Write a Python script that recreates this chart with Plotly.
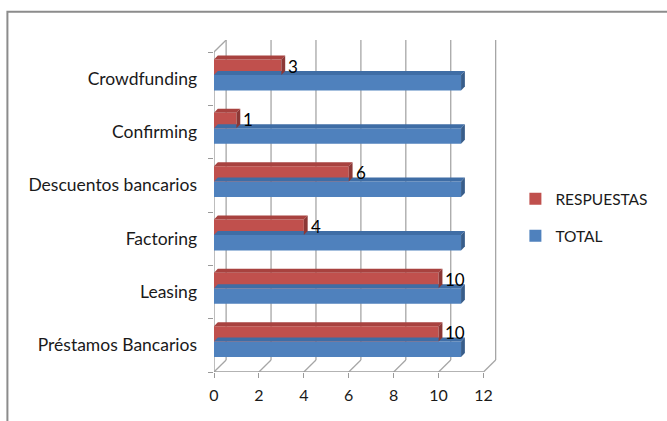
import plotly.graph_objects as go

categories = ["Préstamos Bancarios", "Leasing", "Factoring",
              "Descuentos bancarios", "Confirming", "Crowdfunding"]
respuestas = [10, 10, 4, 6, 1, 3]
total = [11, 11, 11, 11, 11, 11]
x_ticks = [0, 2, 4, 6, 8, 10, 12]

RED, RED_TOP, RED_SIDE = "#C0504D", "#A8423F", "#8C3836"
BLUE, BLUE_TOP, BLUE_SIDE = "#4F81BD", "#3F6DA5", "#385D8A"
GRID = "#A6A6A6"
AXIS = "#9A9A9A"
FONT = "Lato"
TXT = "#1a1a1a"

n = len(categories)
idx = list(range(n))
W = 0.29
OFF_BLUE = -0.22
OFF_RED = OFF_BLUE + W
DX, DY = 0.17, 0.075        # bar depth (data units)
WX, WY = 0.54, 0.225        # wall depth (data units)
XMAX = max(x_ticks)
YLO, YHI = -0.5, n - 0.5

fig = go.Figure()
fig.add_trace(go.Bar(y=idx, x=total, orientation="h", name="TOTAL",
                     marker=dict(color=BLUE, line=dict(width=0)),
                     width=W, offset=OFF_BLUE, legendrank=2, legendgroup="t"))
fig.add_trace(go.Bar(y=idx, x=respuestas, orientation="h", name="RESPUESTAS",
                     marker=dict(color=RED, line=dict(width=0)),
                     width=W, offset=OFF_RED, legendrank=1, legendgroup="r"))

shapes = []
# back wall gridlines + floor diagonals
for v in x_ticks:
    shapes.append(dict(type="line", xref="x", yref="y", x0=v + WX, x1=v + WX,
                       y0=YLO + WY, y1=YHI + WY, line=dict(color=GRID, width=1.3),
                       layer="below"))
    shapes.append(dict(type="line", xref="x", yref="y", x0=v, x1=v + WX,
                       y0=YLO, y1=YLO + WY, line=dict(color=GRID, width=1.3),
                       layer="below"))
# left wall top diagonal
shapes.append(dict(type="line", xref="x", yref="y", x0=0, x1=WX, y0=YHI, y1=YHI + WY,
                   line=dict(color=GRID, width=1.3), layer="below"))
# front axes
shapes.append(dict(type="line", xref="x", yref="y", x0=0, x1=0, y0=YLO, y1=YHI,
                   line=dict(color=AXIS, width=1.3), layer="below"))
shapes.append(dict(type="line", xref="x", yref="y", x0=0, x1=XMAX, y0=YLO, y1=YLO,
                   line=dict(color=AXIS, width=1.3), layer="below"))


def depth(values, off, top_col, side_col):
    for i, v in zip(idx, values):
        b = i + off
        t = b + W
        shapes.append(dict(type="path", xref="x", yref="y",
                           path=f"M 0,{t} L {v},{t} L {v+DX},{t+DY} L {DX},{t+DY} Z",
                           fillcolor=top_col, line=dict(width=0), layer="above"))
        shapes.append(dict(type="path", xref="x", yref="y",
                           path=f"M {v},{b} L {v},{t} L {v+DX},{t+DY} L {v+DX},{b+DY} Z",
                           fillcolor=side_col, line=dict(width=0), layer="above"))


depth(total, OFF_BLUE, BLUE_TOP, BLUE_SIDE)
depth(respuestas, OFF_RED, RED_TOP, RED_SIDE)

# outer chart frame
shapes.append(dict(type="rect", xref="paper", yref="paper",
                   x0=-0.73, x1=2.0, y0=-0.4, y1=1.085,
                   line=dict(color="#8C8C8C", width=2), fillcolor="rgba(0,0,0,0)"))

annotations = []
for i, v in zip(idx, respuestas):
    annotations.append(dict(x=v + DX, y=i + OFF_RED + W / 2 + 0.02, xref="x", yref="y",
                            text=str(v), showarrow=False, xanchor="left",
                            xshift=1, font=dict(family=FONT, size=17, color="#000")))

fig.update_layout(
    width=667, height=421,
    margin=dict(l=214, r=170, t=40, b=49, autoexpand=False),
    paper_bgcolor="white", plot_bgcolor="white",
    barmode="overlay",
    shapes=shapes, annotations=annotations,
    font=dict(family=FONT, size=16, color=TXT),
    legend=dict(x=1.065, y=0.572, xanchor="left", yanchor="top",
                font=dict(family=FONT, size=15.5, color=TXT),
                tracegroupgap=14, itemwidth=30),
    showlegend=True,
)
fig.update_xaxes(range=[0, XMAX + WX + 0.06], tickvals=x_ticks, ticks="outside", ticklen=5,
                 tickcolor=AXIS, showline=False, showgrid=False, zeroline=False,
                 ticklabelstandoff=4,
                 tickfont=dict(family=FONT, size=16, color=TXT))
fig.update_yaxes(range=[YLO, YHI + WY], tickvals=idx, ticktext=categories, ticks="",
                 showline=False, showgrid=False, zeroline=False, ticklabelstandoff=16,
                 minor=dict(tickvals=[i - 0.5 for i in range(n + 1)],
                            ticks="outside", ticklen=5, tickcolor=AXIS),
                 tickfont=dict(family=FONT, size=17.5, color=TXT))

fig.write_html("out.html")
